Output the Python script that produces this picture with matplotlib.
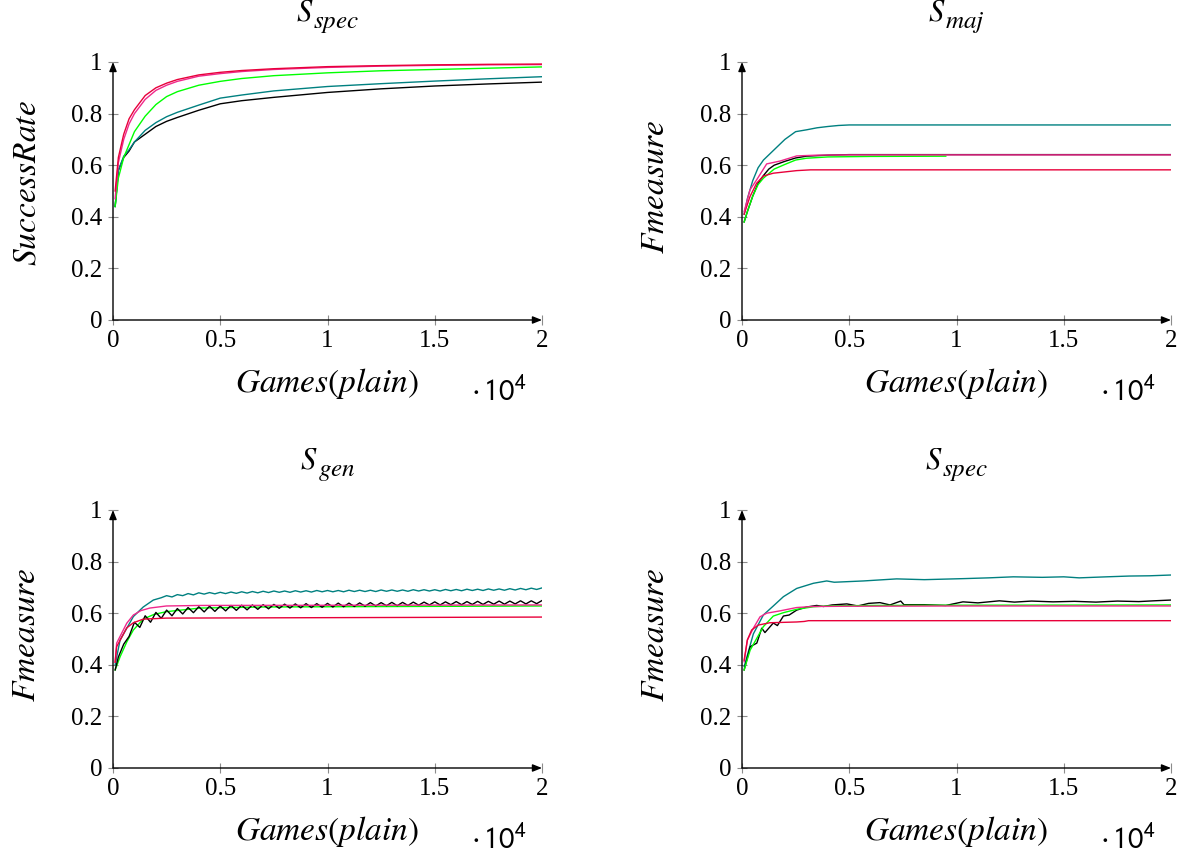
import numpy as np
import matplotlib
matplotlib.use('Agg')
import matplotlib.pyplot as plt

plt.rcParams['font.family'] = ['Liberation Serif', 'DejaVu Serif']
plt.rcParams['mathtext.fontset'] = 'stix'

# ── Données (x en parties jouées) ────────────────────────────────────────────

x_ticks = [0, 5000, 10000, 15000, 20000]
x_tick_labels = ['0', '0.5', '1', '1.5', '2']
y_ticks = [0, 0.2, 0.4, 0.6, 0.8, 1.0]
y_tick_labels = ['0', '0.2', '0.4', '0.6', '0.8', '1']

# S_spec (SuccessRate)
spec_x = [100, 250, 500, 750, 1000, 1500, 2000, 2500, 3000, 4000, 5000, 6000,
          7500, 10000, 12500, 15000, 17500, 20000]
spec_red = [0.50, 0.63, 0.72, 0.78, 0.815, 0.87, 0.90, 0.918, 0.932, 0.95, 0.96,
            0.967, 0.974, 0.982, 0.986, 0.989, 0.991, 0.992]
spec_pink = [0.47, 0.61, 0.70, 0.76, 0.80, 0.855, 0.89, 0.91, 0.925, 0.945, 0.955,
             0.963, 0.971, 0.979, 0.984, 0.987, 0.989, 0.990]
spec_green = [0.44, 0.55, 0.63, 0.68, 0.73, 0.79, 0.835, 0.866, 0.885, 0.91, 0.925,
              0.936, 0.947, 0.958, 0.966, 0.971, 0.976, 0.981]
spec_teal = [0.44, 0.58, 0.635, 0.66, 0.69, 0.735, 0.765, 0.788, 0.805, 0.833, 0.86,
             0.872, 0.888, 0.905, 0.916, 0.926, 0.935, 0.943]
spec_black = [0.44, 0.58, 0.63, 0.655, 0.69, 0.72, 0.75, 0.77, 0.785, 0.813, 0.838,
              0.85, 0.863, 0.882, 0.896, 0.907, 0.915, 0.922]

# S_maj (Fmeasure)
maj_teal_x = [100, 250, 500, 750, 1000, 1500, 2000, 2500, 3000, 3500, 4000, 4500, 5000, 20000]
maj_teal = [0.41, 0.47, 0.54, 0.59, 0.62, 0.66, 0.70, 0.73, 0.737, 0.745, 0.75, 0.754, 0.756, 0.756]
maj_black_x = [100, 250, 500, 750, 1000, 1250, 1500, 2000, 2500, 3000, 4000, 5000, 20000]
maj_black = [0.38, 0.42, 0.48, 0.53, 0.56, 0.585, 0.60, 0.615, 0.628, 0.635, 0.639, 0.641, 0.641]
maj_green_x = [100, 250, 500, 750, 1000, 1500, 2000, 2500, 3000, 4000, 6000, 9500]
maj_green = [0.38, 0.42, 0.48, 0.525, 0.55, 0.585, 0.603, 0.62, 0.627, 0.632, 0.634, 0.635]
maj_pink_x = [100, 370, 680, 1150, 1770, 2550, 3500, 5000, 20000]
maj_pink = [0.42, 0.504, 0.543, 0.605, 0.616, 0.636, 0.639, 0.64, 0.64]
maj_red_x = [100, 370, 680, 995, 1460, 2550, 3200, 20000]
maj_red = [0.41, 0.478, 0.53, 0.558, 0.569, 0.579, 0.582, 0.582]

# S_gen (Fmeasure)
gen_green_x = [100, 330, 650, 950, 1410, 1900, 2490, 4060, 7000, 20000]
gen_green = [0.38, 0.431, 0.49, 0.535, 0.577, 0.595, 0.606, 0.62, 0.624, 0.628]
gen_pink_x = [100, 170, 640, 950, 1300, 1720, 2490, 4060, 20000]
gen_pink = [0.41, 0.484, 0.561, 0.593, 0.61, 0.62, 0.628, 0.63, 0.632]
gen_red_x = [100, 170, 640, 950, 1410, 2490, 20000]
gen_red = [0.41, 0.47, 0.543, 0.563, 0.577, 0.581, 0.585]
gen_teal_head_x = [100, 330, 950, 1410, 1880, 2250]
gen_teal_head = [0.40, 0.496, 0.587, 0.624, 0.651, 0.66]
gen_teal_hi = [0.668, 0.672, 0.676, 0.679, 0.680, 0.681, 0.682, 0.683, 0.684, 0.685,
               0.686, 0.686, 0.687, 0.687, 0.688, 0.688, 0.688, 0.689, 0.689, 0.689,
               0.690, 0.690, 0.690, 0.691, 0.691, 0.691, 0.692, 0.692, 0.693, 0.693,
               0.694, 0.694, 0.695, 0.696, 0.697, 0.698]
gen_teal_lo = [0.663, 0.668, 0.671, 0.674, 0.675, 0.676, 0.677, 0.678, 0.679, 0.680,
               0.681, 0.681, 0.682, 0.682, 0.683, 0.683, 0.683, 0.684, 0.684, 0.684,
               0.685, 0.685, 0.685, 0.686, 0.686, 0.686, 0.687, 0.687, 0.688, 0.688,
               0.689, 0.689, 0.690, 0.691, 0.692]
gen_black_head_x = [100, 250, 500]
gen_black_head = [0.38, 0.43, 0.48]
gen_black_peak = [0.565, 0.59, 0.603, 0.612, 0.618, 0.622, 0.625, 0.627, 0.628, 0.630,
                  0.631, 0.632, 0.633, 0.634, 0.635, 0.636, 0.637, 0.637, 0.638, 0.639,
                  0.639, 0.640, 0.641, 0.641, 0.642, 0.642, 0.643, 0.643, 0.644, 0.644,
                  0.645, 0.645, 0.646, 0.646, 0.647, 0.647, 0.648, 0.648, 0.649]
gen_black_trough = [0.51, 0.545, 0.565, 0.58, 0.59, 0.597, 0.602, 0.605, 0.607, 0.609,
                    0.611, 0.613, 0.615, 0.617, 0.619, 0.620, 0.621, 0.622, 0.623, 0.624,
                    0.625, 0.626, 0.627, 0.628, 0.629, 0.629, 0.630, 0.631, 0.632, 0.632,
                    0.633, 0.633, 0.634, 0.634, 0.635, 0.635, 0.636, 0.636, 0.637]

# S_spec (Fmeasure)
spec2_teal_x = [100, 530, 995, 1460, 1930, 2550, 3330, 3950, 4300, 5660, 7210, 8500,
                10320, 11500, 12650, 14000, 15000, 15720, 17000, 18050, 19000, 20000]
spec2_teal = [0.393, 0.52, 0.593, 0.628, 0.664, 0.696, 0.716, 0.725, 0.72, 0.725, 0.733,
              0.73, 0.734, 0.737, 0.741, 0.739, 0.741, 0.737, 0.741, 0.744, 0.745, 0.748]
spec2_black_x = [100, 380, 690, 920, 1070, 1460, 1650, 1930, 2200, 2550, 3010, 3480,
                 3800, 4200, 4890, 5400, 5900, 6430, 6900, 7400, 7550, 8500, 9500, 10300,
                 11000, 12000, 12700, 13500, 14500, 15500, 16500, 17500, 18500, 19200, 20000]
spec2_black = [0.38, 0.47, 0.484, 0.542, 0.525, 0.562, 0.552, 0.589, 0.593, 0.612, 0.624,
               0.63, 0.626, 0.632, 0.636, 0.628, 0.638, 0.641, 0.632, 0.647, 0.633, 0.633,
               0.63, 0.644, 0.64, 0.648, 0.643, 0.647, 0.644, 0.646, 0.643, 0.647, 0.645,
               0.648, 0.651]
spec2_green_x = [100, 380, 995, 1460, 1930, 2550, 3330, 4000, 6000, 10000, 20000]
spec2_green = [0.38, 0.457, 0.548, 0.589, 0.602, 0.615, 0.625, 0.628, 0.63, 0.631, 0.632]
spec2_pink_x = [100, 250, 530, 840, 1150, 1770, 2550, 3330, 5000, 10000, 20000]
spec2_pink = [0.412, 0.496, 0.542, 0.586, 0.60, 0.609, 0.622, 0.626, 0.627, 0.628, 0.628]
spec2_red_x = [100, 250, 450, 760, 1300, 2550, 2900, 3100, 20000]
spec2_red = [0.418, 0.496, 0.535, 0.554, 0.563, 0.566, 0.568, 0.571, 0.571]

BLACK, TEAL, GREEN, PINK, RED = 'black', '#008080', '#00ff00', '#f0288c', '#e8003a'


# ── Séries dentelées : on entrelace creux et sommets ─────────────────────────

def interleave(head_x, head_y, first_x, a, b, step=250):
    """Début lissé puis alternance a / b tous les `step` parties."""
    ys = []
    for i in range(max(len(a), len(b))):
        if i < len(a):
            ys.append(a[i])
        if i < len(b):
            ys.append(b[i])
    xs = first_x + step * np.arange(len(ys))
    return np.r_[head_x, xs], np.r_[head_y, ys]


gen_black_x, gen_black = interleave(gen_black_head_x, gen_black_head, 750,
                                    gen_black_trough, gen_black_peak)
gen_teal_x, gen_teal = interleave(gen_teal_head_x, gen_teal_head, 2500,
                                  gen_teal_hi, gen_teal_lo)


# ── Tracé ────────────────────────────────────────────────────────────────────

def put_title(ax, main, sub):
    """Titre S_xxx avec un indice assez grand, centré sur l'axe."""
    t = ax.text(0.5, 1.16, main, transform=ax.transAxes, fontsize=22,
                ha='left', va='baseline')
    s = ax.annotate(sub, xy=(1, 0), xycoords=t, xytext=(0, -0.5),
                    textcoords='offset points', fontsize=18, ha='left', va='baseline')
    r = ax.figure.canvas.get_renderer()
    w = t.get_window_extent(r).width + s.get_window_extent(r).width
    t.set_x(0.5 - w / 2 / ax.get_window_extent(r).width)


def draw_panel(fig, rect, title, sub, ylabel, ylab_y, series):
    ax = fig.add_axes(rect)
    for x, y, c in series:
        ax.plot(x, y, color=c, lw=1.0, solid_joinstyle='round')

    ax.set_xlim(0, 20000)
    ax.set_ylim(0, 1)
    for sp in ax.spines.values():
        sp.set_visible(False)

    ax.set_xticks(x_ticks)
    ax.set_xticklabels(x_tick_labels)
    ax.set_yticks(y_ticks)
    ax.set_yticklabels(y_tick_labels)
    ax.tick_params(direction='inout', length=7, width=0.8, color='#8c8c8c',
                   labelsize=18, pad=4)

    # axes avec flèches (style pgfplots)
    arrow = dict(arrowstyle='-|>,head_length=0.55,head_width=0.22', color='black',
                 lw=1.0, shrinkA=0, shrinkB=0)
    ax.annotate('', xy=(1, 0), xytext=(0, 0), xycoords='axes fraction', arrowprops=arrow)
    ax.annotate('', xy=(0, 1), xytext=(0, 0), xycoords='axes fraction', arrowprops=arrow)

    put_title(ax, title, sub)
    ax.text(-0.2, ylab_y, ylabel, transform=ax.transAxes, ha='center', va='center',
            rotation=90, fontsize=24)
    ax.text(0.5, -0.245, r'$Games(plain)$', transform=ax.transAxes, ha='center',
            va='center', fontsize=24)
    ax.text(0.835, -0.28, r'$\cdot\,\mathsf{10}^{\mathsf{4}}$', transform=ax.transAxes,
            ha='left', va='center', fontsize=22)
    return ax


fig = plt.figure(figsize=(11.89, 8.68), dpi=100)

W, H = 429 / 1189, 258 / 868
draw_panel(fig, [113 / 1189, 1 - 320 / 868, W, H], r'$S$', r'$spec$', r'$SuccessRate$', 0.53, [
    (spec_x, spec_black, BLACK), (spec_x, spec_teal, TEAL), (spec_x, spec_green, GREEN),
    (spec_x, spec_pink, PINK), (spec_x, spec_red, RED)])
draw_panel(fig, [742 / 1189, 1 - 320 / 868, W, H], r'$S$', r'$maj$', r'$Fmeasure$', 0.515, [
    (maj_black_x, maj_black, BLACK), (maj_teal_x, maj_teal, TEAL),
    (maj_green_x, maj_green, GREEN), (maj_red_x, maj_red, RED),
    (maj_pink_x, maj_pink, PINK)])
draw_panel(fig, [113 / 1189, 1 - 768 / 868, W, H], r'$S$', r'$gen$', r'$Fmeasure$', 0.515, [
    (gen_teal_x, gen_teal, TEAL), (gen_green_x, gen_green, GREEN),
    (gen_black_x, gen_black, BLACK), (gen_pink_x, gen_pink, PINK),
    (gen_red_x, gen_red, RED)])
draw_panel(fig, [742 / 1189, 1 - 768 / 868, W, H], r'$S$', r'$spec$', r'$Fmeasure$', 0.515, [
    (spec2_teal_x, spec2_teal, TEAL), (spec2_black_x, spec2_black, BLACK),
    (spec2_green_x, spec2_green, GREEN), (spec2_pink_x, spec2_pink, PINK),
    (spec2_red_x, spec2_red, RED)])

fig.savefig('out.png', dpi=100)
